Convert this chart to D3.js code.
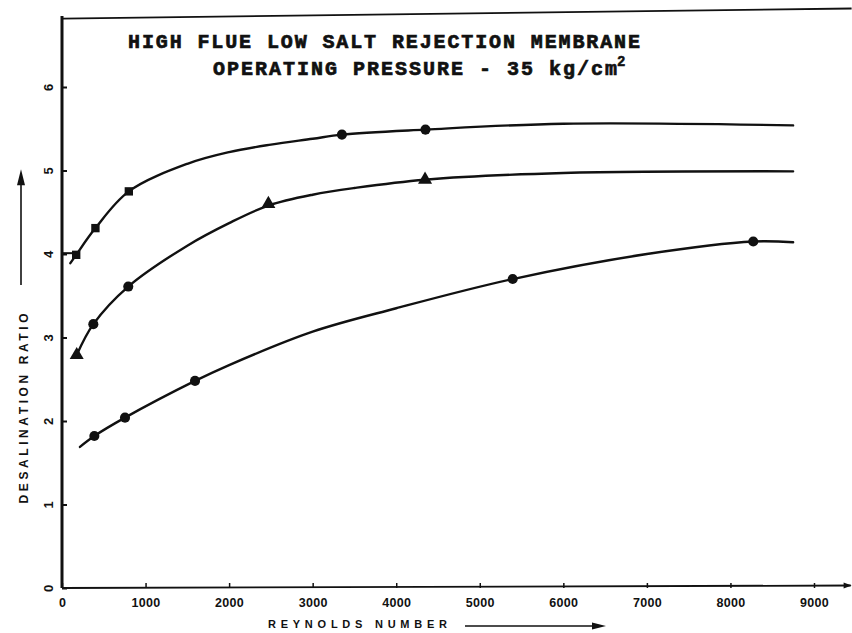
<!DOCTYPE html>
<html>
<head>
<meta charset="utf-8">
<script src="https://cdn.jsdelivr.net/npm/d3@7/dist/d3.min.js"></script>
<style>
  html, body { margin: 0; padding: 0; background: #fff; }
  svg { display: block; }
  .tick text { font-family: "Liberation Sans", Arial, sans-serif; font-weight: bold; fill: #111; }
</style>
</head>
<body>
<svg id="chart" width="852" height="633"></svg>
<script>
// Reynolds number ticks and desalination ratio ticks
const xTicks = [0, 1000, 2000, 3000, 4000, 5000, 6000, 7000, 8000, 9000];
const yTicks = [0, 1, 2, 3, 4, 5, 6];

// Upper curve: measured points and the drawn trend line
const upperX = [170, 400, 800, 3350, 4350];
const upperY = [3.99, 4.31, 4.75, 5.43, 5.49];
const upperShape = ["square", "square", "square", "circle", "circle"];
const upperLineX = [100, 170, 400, 800, 1500, 2000, 2500, 3000, 3350, 4350, 6000, 8750];
const upperLineY = [3.89, 3.99, 4.31, 4.75, 5.08, 5.22, 5.31, 5.38, 5.43, 5.49, 5.56, 5.54];

// Middle curve
const middleX = [176, 375, 793, 2470, 4345];
const middleY = [2.79, 3.16, 3.61, 4.60, 4.89];
const middleShape = ["triangle", "circle", "circle", "triangle", "triangle"];
const middleLineX = [176, 375, 793, 1500, 2000, 2470, 3000, 3500, 4345, 6000, 8750];
const middleLineY = [2.79, 3.16, 3.61, 4.10, 4.37, 4.58, 4.71, 4.79, 4.89, 4.97, 4.99];

// Lower curve
const lowerX = [387, 754, 1592, 5394, 8273];
const lowerY = [1.82, 2.04, 2.48, 3.70, 4.15];
const lowerShape = ["circle", "circle", "circle", "circle", "circle"];
const lowerLineX = [215, 387, 754, 1592, 2000, 3000, 4000, 5394, 7000, 8273, 8750];
const lowerLineY = [1.69, 1.82, 2.04, 2.48, 2.67, 3.07, 3.35, 3.70, 4.00, 4.15, 4.14];

const titleLine1 = "HIGH FLUE LOW SALT REJECTION MEMBRANE";
const titleLine2 = "OPERATING PRESSURE - 35 kg/cm";
const titleSup = "2";
const xTitle = "REYNOLDS NUMBER";
const yTitle = "DESALINATION RATIO";

const ink = "#111";
const svg = d3.select("#chart");

const x = d3.scaleLinear().domain([0, 9000]).range([62, 814]);
const y = d3.scaleLinear().domain([0, 6]).range([588, 87]);

// Frame: heavy left axis and a slightly slanted top rule
svg.append("line")
  .attr("x1", x(0)).attr("x2", x(0))
  .attr("y1", y(0)).attr("y2", y(6.85))
  .attr("stroke", ink).attr("stroke-width", 3);
svg.append("line")
  .attr("x1", x(0)).attr("y1", y(6.82))
  .attr("x2", x(9450)).attr("y2", y(6.94))
  .attr("stroke", ink).attr("stroke-width", 1.8);

// X axis
const gx = svg.append("g").attr("transform", `translate(0,${y(0)})`)
  .call(d3.axisBottom(x).tickValues(xTicks).tickSizeInner(-5).tickSizeOuter(0).tickPadding(10).tickFormat(d3.format("d")));
gx.select(".domain").remove();
gx.selectAll(".tick line").attr("stroke", ink).attr("stroke-width", 1.5);
gx.selectAll(".tick text").attr("font-size", 12.5).attr("letter-spacing", 0.3);
svg.append("line")
  .attr("x1", x(0)).attr("x2", x(9440))
  .attr("y1", y(0)).attr("y2", y(0.03))
  .attr("stroke", ink).attr("stroke-width", 1.8);
svg.append("path")
  .attr("d", `M${x(9450)},${y(0.03)} l-8,-3 l0,6 Z`)
  .attr("fill", ink);

// Y axis ticks and rotated labels
const gy = svg.append("g").attr("transform", `translate(${x(0)},0)`)
  .call(d3.axisLeft(y).tickValues(yTicks).tickSizeInner(-5).tickSizeOuter(0).tickPadding(0).tickFormat(d3.format("d")));
gy.select(".domain").remove();
gy.selectAll(".tick line").attr("stroke", ink).attr("stroke-width", 2);
gy.selectAll(".tick text")
  .attr("x", null)
  .attr("text-anchor", "middle")
  .attr("font-size", 13)
  .attr("transform", "translate(-14,0) rotate(-90)")
  .attr("dy", "0.35em");

// Axis titles
svg.append("text")
  .attr("transform", `translate(28,${y(2.15)}) rotate(-90)`)
  .attr("text-anchor", "middle")
  .attr("font-family", "Liberation Sans, Arial, sans-serif")
  .attr("font-weight", "bold")
  .attr("font-size", 12)
  .attr("textLength", 190).attr("lengthAdjust", "spacing")
  .attr("fill", ink)
  .text(yTitle);
svg.append("line")
  .attr("x1", 21).attr("x2", 21)
  .attr("y1", y(3.63)).attr("y2", y(4.95))
  .attr("stroke", ink).attr("stroke-width", 1.6);
svg.append("path")
  .attr("d", `M21,${y(4.98) - 3} l-4,16 l8,0 Z`)
  .attr("fill", ink);

svg.append("text")
  .attr("x", 268).attr("y", 628)
  .attr("font-family", "Liberation Sans, Arial, sans-serif")
  .attr("font-weight", "bold")
  .attr("font-size", 11)
  .attr("textLength", 179).attr("lengthAdjust", "spacing")
  .attr("fill", ink)
  .text(xTitle);
svg.append("line")
  .attr("x1", 465).attr("x2", 598)
  .attr("y1", 626).attr("y2", 626)
  .attr("stroke", ink).attr("stroke-width", 1.4);
svg.append("path")
  .attr("d", "M606,626 l-14,-3.5 l0,7 Z")
  .attr("fill", ink);

// Title in heavy typewriter lettering
const titleFont = "Liberation Mono, Courier New, monospace";
svg.append("text")
  .attr("x", 128).attr("y", 48)
  .attr("font-family", titleFont).attr("font-weight", "bold").attr("font-size", 20)
  .attr("textLength", 512).attr("lengthAdjust", "spacing")
  .attr("fill", ink).attr("stroke", ink).attr("stroke-width", 0.7)
  .text(titleLine1);
svg.append("text")
  .attr("x", 213).attr("y", 75)
  .attr("font-family", titleFont).attr("font-weight", "bold").attr("font-size", 20)
  .attr("textLength", 404).attr("lengthAdjust", "spacing")
  .attr("fill", ink).attr("stroke", ink).attr("stroke-width", 0.7)
  .text(titleLine2);
svg.append("text")
  .attr("x", 617).attr("y", 66)
  .attr("font-family", titleFont).attr("font-weight", "bold").attr("font-size", 14)
  .attr("fill", ink).attr("stroke", ink).attr("stroke-width", 0.5)
  .text(titleSup);

// Curves and markers
const line = d3.line()
  .x(d => x(d[0])).y(d => y(d[1]))
  .curve(d3.curveCatmullRom.alpha(0.5));

const symbolType = { square: d3.symbolSquare, circle: d3.symbolCircle, triangle: d3.symbolTriangle };
const symbolSize = { square: 70, circle: 80, triangle: 85 };

const series = [
  { lx: upperLineX, ly: upperLineY, px: upperX, py: upperY, shapes: upperShape },
  { lx: middleLineX, ly: middleLineY, px: middleX, py: middleY, shapes: middleShape },
  { lx: lowerLineX, ly: lowerLineY, px: lowerX, py: lowerY, shapes: lowerShape }
];

series.forEach(s => {
  svg.append("path")
    .datum(d3.zip(s.lx, s.ly))
    .attr("d", line)
    .attr("fill", "none")
    .attr("stroke", ink)
    .attr("stroke-width", 2.4)
    .attr("stroke-linecap", "round");
  svg.append("g").selectAll("path")
    .data(d3.zip(s.px, s.py, s.shapes))
    .join("path")
    .attr("transform", d => `translate(${x(d[0])},${y(d[1])})`)
    .attr("d", d => d3.symbol().type(symbolType[d[2]]).size(symbolSize[d[2]])())
    .attr("fill", ink);
});

// Short lead from the axis to the first upper point
svg.append("line")
  .attr("x1", x(0)).attr("x2", x(upperX[0]))
  .attr("y1", y(4.01)).attr("y2", y(4.01))
  .attr("stroke", ink).attr("stroke-width", 2);
</script>
</body>
</html>
